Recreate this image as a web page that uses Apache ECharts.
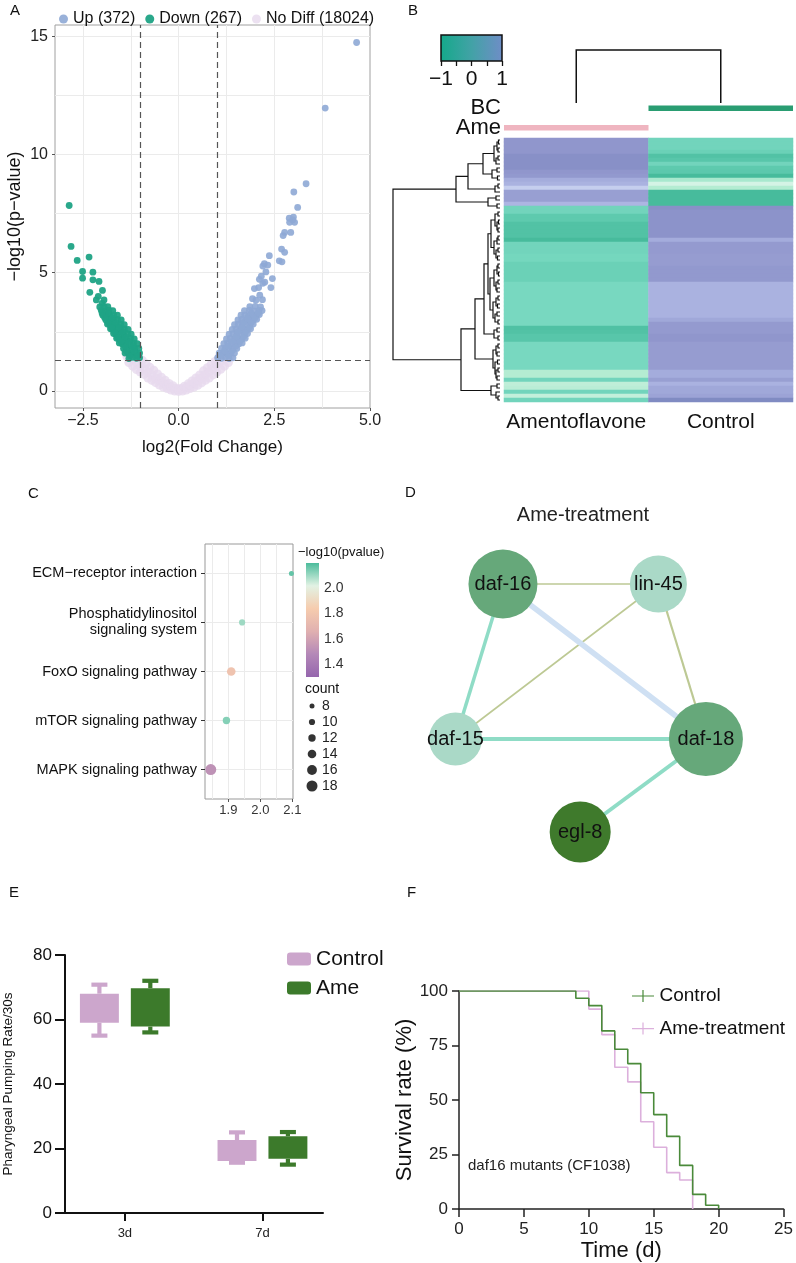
<!DOCTYPE html>
<html><head><meta charset="utf-8">
<script src="https://cdn.jsdelivr.net/npm/echarts@6/dist/echarts.min.js"></script>
<style>html,body{margin:0;padding:0;background:#fff}#c{width:796px;height:1263px}</style>
</head><body><div id="c"></div>
<script>
// ---------------- DATA ----------------
// Panel A: volcano
const volcanoLegend = ['Up (372)', 'Down (267)', 'No Diff (18024)'];
const volcanoUp = [
  [4.65,14.73],[3.83,11.96],[3.33,8.76],[3.01,8.41],[3.11,7.76],[3.0,7.35],[2.89,7.3],[2.98,7.23],[3.03,7.13],[2.9,7.13],
  [2.77,6.7],[2.93,6.7],[2.73,6.57],[2.69,6.0],[2.77,5.86],[2.37,5.72],[2.63,5.5],[2.7,5.46],[2.24,5.38],[2.33,5.32],
  [2.2,5.28],[2.28,5.03],[2.11,4.72],[2.45,4.75],[2.09,4.37],[1.98,4.33],[2.41,4.37],[1.93,3.9],[2.19,3.86],[2.02,3.84],
  [2.12,4.05],[2.25,4.6],[2.2,4.55],[2.16,4.85],
  [1.02,1.4],[1.12,1.38],[1.22,1.42],[1.32,1.37],[1.42,1.4],
  [1.06,1.6],[1.16,1.62],[1.26,1.58],[1.36,1.61],[1.46,1.6],
  [1.12,1.8],[1.22,1.82],[1.32,1.78],[1.42,1.81],[1.52,1.8],
  [1.18,2.0],[1.28,2.02],[1.38,1.98],[1.48,2.01],[1.58,2.0],[1.66,2.03],
  [1.25,2.2],[1.35,2.22],[1.45,2.18],[1.55,2.21],[1.65,2.2],[1.74,2.23],
  [1.32,2.4],[1.42,2.42],[1.52,2.38],[1.62,2.41],[1.72,2.4],[1.8,2.43],
  [1.4,2.6],[1.5,2.62],[1.6,2.58],[1.7,2.61],[1.8,2.6],[1.88,2.63],
  [1.46,2.8],[1.56,2.82],[1.66,2.78],[1.76,2.81],[1.86,2.8],[1.95,2.83],
  [1.55,3.0],[1.65,3.02],[1.75,2.98],[1.85,3.01],[1.95,3.0],[2.04,3.03],
  [1.63,3.2],[1.73,3.22],[1.83,3.18],[1.93,3.21],[2.03,3.2],[2.11,3.23],
  [1.72,3.4],[1.85,3.42],[1.98,3.38],[2.1,3.41],[2.18,3.4],
  [1.86,3.56],[2.0,3.58],[2.14,3.55],
  [1.1,1.5],[1.3,1.5],[1.2,1.7],[1.4,1.7],[1.3,1.9],[1.5,1.9],[1.4,2.1],[1.6,2.1],[1.5,2.3],[1.7,2.3],
  [1.55,2.5],[1.75,2.5],[1.65,2.7],[1.85,2.7],[1.7,2.9],[1.9,2.9],[1.8,3.1],[2.0,3.1],[1.9,3.3],[2.08,3.3]
];
const volcanoDown = [
  [-2.86,7.84],[-2.81,6.11],[-2.65,5.52],[-2.34,5.66],[-2.51,5.05],[-2.24,5.02],[-2.51,4.77],[-2.24,4.7],[-2.08,4.63],
  [-2.32,4.17],[-1.99,4.25],[-2.15,3.85],[-1.95,3.85],[-2.1,4.0],[-2.0,3.7],
  [-1.02,1.4],[-1.1,1.38],[-1.2,1.42],[-1.3,1.37],
  [-1.02,1.6],[-1.12,1.62],[-1.22,1.58],[-1.32,1.61],[-1.4,1.6],
  [-1.04,1.8],[-1.14,1.82],[-1.24,1.78],[-1.34,1.81],[-1.44,1.8],
  [-1.08,2.0],[-1.18,2.02],[-1.28,1.98],[-1.38,2.01],[-1.48,2.0],[-1.55,2.03],
  [-1.16,2.2],[-1.26,2.22],[-1.36,2.18],[-1.46,2.21],[-1.56,2.2],[-1.62,2.23],
  [-1.24,2.4],[-1.34,2.42],[-1.44,2.38],[-1.54,2.41],[-1.64,2.4],[-1.7,2.43],
  [-1.32,2.6],[-1.42,2.62],[-1.52,2.58],[-1.62,2.61],[-1.72,2.6],[-1.78,2.63],
  [-1.42,2.8],[-1.52,2.82],[-1.62,2.78],[-1.72,2.81],[-1.8,2.8],[-1.86,2.83],
  [-1.5,3.0],[-1.6,3.02],[-1.7,2.98],[-1.8,3.01],[-1.9,3.0],
  [-1.6,3.2],[-1.7,3.22],[-1.8,3.18],[-1.9,3.21],[-1.98,3.2],
  [-1.72,3.4],[-1.82,3.42],[-1.92,3.38],[-2.02,3.41],
  [-1.85,3.56],[-1.95,3.58],[-2.06,3.55],
  [-1.07,1.5],[-1.27,1.5],[-1.17,1.7],[-1.37,1.7],[-1.2,1.9],[-1.4,1.9],[-1.3,2.1],[-1.5,2.1],[-1.4,2.3],[-1.6,2.3],
  [-1.47,2.5],[-1.67,2.5],[-1.57,2.7],[-1.75,2.7],[-1.65,2.9],[-1.83,2.9],[-1.75,3.1],[-1.93,3.1],[-1.85,3.3],[-2.0,3.3]
];
const volcanoNoDiff = [
  [-1.35,1.45],[-1.3,1.2],[-1.25,1.5],[-1.2,1.05],[-1.2,1.35],[-1.1,0.9],[-1.1,1.2],[-1.05,1.45],[-1.0,0.8],[-1.0,1.05],
  [-0.95,1.3],[-0.9,0.7],[-0.9,0.95],[-0.85,1.15],[-0.8,0.55],[-0.8,0.8],[-0.75,1.0],[-0.7,0.45],[-0.7,0.7],[-0.65,0.88],
  [-0.6,0.35],[-0.6,0.55],[-0.55,0.72],[-0.5,0.25],[-0.5,0.45],[-0.45,0.58],[-0.4,0.17],[-0.4,0.35],[-0.35,0.45],[-0.3,0.1],
  [-0.3,0.25],[-0.25,0.32],[-0.2,0.04],[-0.2,0.16],[-0.15,0.22],[-0.1,0.0],[-0.1,0.09],[-0.05,0.12],[0,-0.02],[0,0.06],
  [0.05,0.1],[0.1,0.0],[0.1,0.09],[0.15,0.2],[0.2,0.04],[0.2,0.15],[0.25,0.3],[0.3,0.1],[0.3,0.24],[0.35,0.42],
  [0.4,0.16],[0.4,0.34],[0.45,0.55],[0.5,0.24],[0.5,0.44],[0.55,0.68],[0.6,0.34],[0.6,0.55],[0.65,0.85],[0.7,0.45],
  [0.7,0.7],[0.75,0.98],[0.8,0.55],[0.8,0.82],[0.85,1.12],[0.9,0.68],[0.9,0.95],[0.95,1.25],[1.0,0.8],[1.0,1.1],
  [1.05,1.42],[1.1,0.92],[1.1,1.25],[1.2,1.05],[1.2,1.4],[1.3,1.2],[1.35,1.45]
];
const volcanoXTicks = [-2.5, 0, 2.5, 5];
const volcanoYTicks = [0, 5, 10, 15];
const volcanoXGrid = [-2.5, -1.25, 0, 1.25, 2.5, 3.75];
const volcanoYGrid = [0, 2.5, 5, 7.5, 10, 12.5, 15];
const volcanoThresholdFC = [-1, 1];
const volcanoThresholdP = 1.3;

// Panel B: heatmap
const heatCols = ['Amentoflavone', 'Control'];
const heatAme = [0.75,0.75,0.75,0.75,0.85,0.85,0.85,0.85,0.75,0.72,0.5,0.45,0.22,0.65,0.65,0.65,0.42,-0.55,
  -0.55,-0.7,-0.7,-0.8,-0.8,-0.8,-0.8,-0.9,-0.55,-0.55,-0.55,-0.52,-0.52,-0.6,-0.6,-0.6,-0.6,-0.6,
  -0.5,-0.5,-0.5,-0.5,-0.5,-0.5,-0.5,-0.5,-0.5,-0.5,-0.5,-0.82,-0.8,-0.75,-0.75,
  -0.5,-0.5,-0.5,-0.5,-0.5,-0.5,-0.5,-0.25,-0.25,-0.55,-0.2,-0.22,-0.55,-0.18,-0.55];
const heatCtrl = [-0.55,-0.55,-0.55,-0.6,-0.8,-0.75,-0.55,-0.7,-0.72,-0.9,-0.3,-0.1,-0.25,-0.9,-0.9,-0.9,-0.9,0.85,
  0.8,0.8,0.8,0.8,0.8,0.8,0.8,0.5,0.7,0.7,0.7,0.68,0.68,0.68,0.72,0.72,0.72,0.72,
  0.45,0.45,0.45,0.45,0.45,0.45,0.45,0.45,0.45,0.55,0.7,0.7,0.7,0.75,0.75,
  0.68,0.68,0.68,0.68,0.68,0.68,0.68,0.5,0.5,0.65,0.45,0.55,0.55,0.6,0.95];
const heatScaleTicks = [-1, -0.5, 0, 0.5, 1];
const heatScaleLabels = [-1, 0, 1];
const annoTracks = ['BC', 'Ame'];
const annoCells = [[1, 0], [0, 1]]; // [column, track]
// row dendrogram: [height, left, right]; leaves are row indices
const rowTree = [107,
  [44,
    [32,
      [17,
        [6, [3, [1.5, 0, 1], [2, 2, 3]], [4, [2, 4, 5], 6]],
        [8, [3, 7, 8], [2.5, 9, 10]]
      ],
      [5, [2, 11, 12], 13]
    ],
    [12, [4, 14, 15], [3, 16, 17]]
  ],
  [39,
    [25,
      [16,
        [12,
          [9, [5, [2, 18, 19], [3, [1.5, 20, 21], [2, 22, 23]]], [6, [3, [2, 24, 25], 26], [4, [2, 27, 28], [2.5, 29, 30]]]],
          [10, [6, [3, [2, 31, 32], [1.5, 33, 34]], [4, [2, 35, 36], [3, 37, 38]]], [7, [4, [2, 39, 40], [2.5, 41, 42]], [5, [3, 43, 44], [2, 45, 46]]]]
        ],
        [6, [3, 47, 48], [2, 49, 50]]
      ],
      [7, [4, [2, 51, 52], [3, 53, 54]], [5, [2.5, 55, 56], [4, [2, 57, 58], [3, 59, 60]]]]
    ],
    [9, [3, 61, 62], [4, 63, [2, 64, 65]]]
  ]
];
const colTree = [1, 0, 1];

// Panel C: enrichment dot plot
const pathways = ['ECM\u2212receptor interaction', 'Phosphatidylinositol\nsignaling system', 'FoxO signaling pathway', 'mTOR signaling pathway', 'MAPK signaling pathway'];
const pathRatio = [2.097, 1.943, 1.909, 1.894, 1.845];
const pathLogP = [2.17, 2.1, 1.78, 2.13, 1.52];
const pathCount = [8, 10, 14, 12, 18];
const pathXTicks = [1.9, 2.0, 2.1];
const pathXGrid = [1.85, 1.9, 1.95, 2.0, 2.05];
const pLegendTicks = [1.4, 1.6, 1.8, 2.0];
const countLegend = [8, 10, 12, 14, 16, 18];

// Panel D: network
const netNodes = ['daf-16', 'lin-45', 'daf-15', 'daf-18', 'egl-8'];
const netPos = [[2.6, 2.6], [6.525, 2.6], [1.4, 6.475], [7.725, 6.475], [4.55, 8.8]];
const netEdges = [['daf-16','lin-45'], ['lin-45','daf-15'], ['lin-45','daf-18'], ['daf-16','daf-18'], ['daf-16','daf-15'], ['daf-15','daf-18'], ['daf-18','egl-8']];

// Panel E: pumping rate (min, q1, q3, max)
const boxCats = ['3d', '7d'];
const pumpControl = [[55.0, 59.0, 68.0, 70.8], [15.6, 16.1, 22.6, 25.0]];
const pumpAme = [[56.0, 57.8, 69.7, 72.0], [15.0, 16.8, 23.8, 25.1]];

// Panel F: survival
const kmControl = [[0,100],[9,96.7],[10,93.3],[11,81.7],[12,73.3],[13,66.7],[14,53.3],[15,43.3],[16,33.3],[17,20],[18,6.7],[19,1.7],[20,0]];
const kmAme = [[0,100],[10,91.7],[11,80],[12,65],[13,58.3],[14,40],[15,28.3],[16,16.7],[17,13.3],[18,0]];

// ---------------- STYLE ----------------
const FONT = 'Liberation Sans, Arial, Helvetica, sans-serif';
const C_UP = '#8ea8d5', C_DOWN = '#1fa385', C_NO = '#e7d9ee';
const heatColors = ['#3cb493', '#58c6aa', '#78d8c0', '#b4ecd2', '#eaf8f2', '#c0c8ee', '#a4acdc', '#9096cc', '#7c88c0'];
const pColors = ['#9566ad', '#b488b8', '#e0b0b0', '#f6ccae', '#e2f2e4', '#4cbc9c'];
const annoColors = ['#2a9d72', '#efb5c0'];
const nodeSize = {'daf-16': 69, 'lin-45': 57, 'daf-15': 53, 'daf-18': 74, 'egl-8': 61};
const nodeColor = {'daf-16': '#66a87a', 'lin-45': '#aad9c7', 'daf-15': '#aad9c7', 'daf-18': '#66a87a', 'egl-8': '#3f7a2c'};
const edgeStyles = [
  {color:'#bdc994', width:1.6}, {color:'#bdc994', width:1.6}, {color:'#bdc994', width:2.2},
  {color:'#cfe0f3', width:5.5}, {color:'#8fdcc6', width:3.5}, {color:'#8fdcc6', width:4}, {color:'#8fdcc6', width:4}
];
const C_CTRL_E = '#cca6cc', C_AME_E = '#3c7a2b';
const C_CTRL_F = '#4a8a3a', C_AME_F = '#dcb0dc';

function minus(s) { return String(s).replace('-', '\u2212'); }

// dendrogram segments from trees
function buildSegs(tree, leafOffset) {
  const segs = [];
  (function walk(node) {
    if (typeof node === 'number') return {h: 0, p: node + leafOffset};
    const a = walk(node[1]), b = walk(node[2]);
    segs.push([node[0], a.p, b.p, a.h, b.h]);
    return {h: node[0], p: (a.p + b.p) / 2};
  })(tree);
  return segs;
}
const rowSegs = buildSegs(rowTree, 0.5);
const colSegs = buildSegs(colTree, 0);

function dendroRender(horizontal, lw) {
  return function (params, api) {
    const h = api.value(0), pa = api.value(1), pb = api.value(2), ha = api.value(3), hb = api.value(4);
    const pt = horizontal ? (hh, pp) => api.coord([hh, pp]) : (hh, pp) => api.coord([pp, hh]);
    return {type: 'polyline', shape: {points: [pt(ha, pa), pt(h, pa), pt(h, pb), pt(hb, pb)]},
      style: {stroke: '#111', lineWidth: lw, fill: 'none'}};
  };
}

function boxRender(offset, color) {
  return function (params, api) {
    const x = api.value(0);
    const c = api.coord([x + offset, 0])[0];
    const w = api.size([0.283, 0])[0];
    const yMin = api.coord([x, api.value(1)])[1];
    const yQ1 = api.coord([x, api.value(2)])[1];
    const yQ3 = api.coord([x, api.value(3)])[1];
    const yMax = api.coord([x, api.value(4)])[1];
    const capW = 16, th = 4.2;
    const st = {fill: color};
    return {type: 'group', children: [
      {type: 'rect', shape: {x: c - th / 2, y: yMax, width: th, height: yQ3 - yMax}, style: st},
      {type: 'rect', shape: {x: c - th / 2, y: yQ1, width: th, height: yMin - yQ1}, style: st},
      {type: 'rect', shape: {x: c - capW / 2, y: yMax - th / 2, width: capW, height: th}, style: st},
      {type: 'rect', shape: {x: c - capW / 2, y: yMin - th / 2, width: capW, height: th}, style: st},
      {type: 'rect', shape: {x: c - w / 2, y: yQ3, width: w, height: yQ1 - yQ3}, style: st}
    ]};
  };
}

const heatData = [];
heatAme.forEach((v, r) => heatData.push([0, r, v]));
heatCtrl.forEach((v, r) => heatData.push([1, r, v]));
const rowCats = heatAme.map((v, i) => String(i));

const hidden = {show: false};
const noLine = {show: false, onZero: false};
function hiddenAxis(extra) {
  return Object.assign({axisLine: noLine, axisTick: hidden, axisLabel: hidden, splitLine: hidden}, extra);
}
const txt = (text, x, y, size, align, extra) => ({type: 'text', silent: true,
  style: Object.assign({text, x, y, fill: '#111', fontSize: size, fontFamily: FONT,
    textAlign: align || 'left', align: align || 'left', textVerticalAlign: 'middle', verticalAlign: 'middle'}, extra || {})});

const gridLineStyle = {color: '#ebebeb', width: 1, type: 'solid'};

const option = {
  animation: false,
  textStyle: {fontFamily: FONT},
  grid: [
    {left: 55, top: 25, width: 315, height: 383, show: true, borderColor: '#a0a0a0', borderWidth: 1, backgroundColor: '#fff'}, //0 A
    {left: 441, top: 35, width: 61, height: 26}, //1 B colorbar
    {left: 504, top: 50, width: 289, height: 53}, //2 B col dendro
    {left: 504, top: 98.5, width: 289, height: 39}, //3 B annotation
    {left: 393, top: 138, width: 107, height: 264}, //4 B row dendro
    {left: 504, top: 138, width: 289, height: 264}, //5 B heatmap
    {left: 205, top: 544, width: 88, height: 255, show: true, borderColor: '#999', borderWidth: 1, backgroundColor: '#fff'}, //6 C
    {left: 306, top: 563, width: 13, height: 114}, //7 C colorbar
    {left: 305, top: 698, width: 14, height: 96}, //8 C size legend
    {left: 400, top: 480, width: 400, height: 400}, //9 D
    {left: 64, top: 955, width: 259, height: 258}, //10 E
    {left: 459, top: 991, width: 327, height: 218} //11 F
  ],
  xAxis: [
    {gridIndex: 0, type: 'value', min: -3.23, max: 5.0, axisLine: noLine, splitLine: hidden,
      axisTick: {customValues: volcanoXTicks, length: 3, lineStyle: {color: '#555'}},
      axisLabel: {customValues: volcanoXTicks, formatter: v => minus(v.toFixed(1)), fontSize: 16, color: '#222', margin: 5},
      name: 'log2(Fold Change)', nameLocation: 'middle', nameGap: 31, nameTextStyle: {fontSize: 17, color: '#111'}},
    {gridIndex: 1, type: 'value', min: -1, max: 1, axisLine: noLine, splitLine: hidden,
      axisTick: {customValues: heatScaleTicks, length: 5, lineStyle: {color: '#111', width: 1.3}},
      axisLabel: {customValues: heatScaleLabels, formatter: v => minus(v), fontSize: 21, color: '#111', margin: 8}},
    hiddenAxis({gridIndex: 2, type: 'category', data: heatCols}),
    hiddenAxis({gridIndex: 3, type: 'category', data: heatCols}),
    hiddenAxis({gridIndex: 4, type: 'value', min: 0, max: 107, inverse: true}),
    {gridIndex: 5, type: 'category', data: heatCols, axisLine: noLine, axisTick: hidden, splitLine: hidden,
      axisLabel: {interval: 0, fontSize: 21, color: '#111', margin: 10}},
    {gridIndex: 6, type: 'value', min: 1.827, max: 2.102, axisLine: noLine, splitLine: hidden,
      axisTick: {customValues: pathXTicks, length: 3, lineStyle: {color: '#555'}},
      axisLabel: {customValues: pathXTicks, formatter: v => v.toFixed(1), fontSize: 13, color: '#333', margin: 5}},
    hiddenAxis({gridIndex: 7, type: 'value', min: 0, max: 1}),
    hiddenAxis({gridIndex: 8, type: 'value', min: 0, max: 1}),
    hiddenAxis({gridIndex: 9, type: 'value', min: 0, max: 10}),
    {gridIndex: 10, type: 'value', min: 0.565, max: 2.44, splitLine: hidden,
      axisLine: {onZero: false, lineStyle: {color: '#111', width: 2}},
      axisTick: {customValues: [1, 2], length: 8, lineStyle: {color: '#111', width: 2}},
      axisLabel: {customValues: [1, 2], formatter: v => boxCats[Math.round(v) - 1], fontSize: 13, color: '#222', margin: 14}},
    {gridIndex: 11, type: 'value', min: 0, max: 25, interval: 5, splitLine: hidden,
      axisLine: {onZero: false, lineStyle: {color: '#222', width: 1.5}},
      axisTick: {length: 8, lineStyle: {color: '#222', width: 1.5}},
      axisLabel: {fontSize: 17, color: '#222', margin: 12},
      name: 'Time (d)', nameLocation: 'middle', nameGap: 31, nameTextStyle: {fontSize: 22, color: '#111'}}
  ],
  yAxis: [
    {gridIndex: 0, type: 'value', min: -0.72, max: 15.47, axisLine: noLine, splitLine: hidden,
      axisTick: {customValues: volcanoYTicks, length: 3, lineStyle: {color: '#555'}},
      axisLabel: {customValues: volcanoYTicks, fontSize: 16, color: '#222', margin: 7},
      name: '\u2212log10(p\u2212value)', nameLocation: 'middle', nameGap: 31, nameTextStyle: {fontSize: 18, color: '#111'}},
    hiddenAxis({gridIndex: 1, type: 'value', min: 0, max: 1}),
    hiddenAxis({gridIndex: 2, type: 'value', min: 0, max: 1}),
    {gridIndex: 3, type: 'category', data: annoTracks, inverse: true, axisLine: noLine, axisTick: hidden, splitLine: hidden,
      axisLabel: {interval: 0, fontSize: 22, color: '#111', margin: 3}},
    hiddenAxis({gridIndex: 4, type: 'value', min: 0, max: rowCats.length, inverse: true}),
    hiddenAxis({gridIndex: 5, type: 'category', data: rowCats, inverse: true}),
    {gridIndex: 6, type: 'value', min: 0.4, max: 5.6, inverse: true, axisLine: noLine, splitLine: hidden,
      axisTick: {customValues: [1, 2, 3, 4, 5], length: 4, lineStyle: {color: '#333'}},
      axisLabel: {customValues: [1, 2, 3, 4, 5], formatter: v => pathways[Math.round(v) - 1], fontSize: 14.5, color: '#111', margin: 8, lineHeight: 16}},
    {gridIndex: 7, type: 'value', min: 1.297, max: 2.198, position: 'right', axisLine: noLine, splitLine: hidden,
      axisTick: {customValues: pLegendTicks, inside: true, length: 3, lineStyle: {color: '#fff'}},
      axisLabel: {customValues: pLegendTicks, formatter: v => v.toFixed(1), fontSize: 14, color: '#333', margin: 5}},
    {gridIndex: 8, type: 'category', data: countLegend.map(String), inverse: true, position: 'right',
      axisLine: noLine, axisTick: hidden, splitLine: hidden, axisLabel: {interval: 0, fontSize: 14, color: '#222', margin: 3}},
    hiddenAxis({gridIndex: 9, type: 'value', min: 0, max: 10, inverse: true}),
    {gridIndex: 10, type: 'value', min: 0, max: 80, interval: 20, splitLine: hidden,
      axisLine: {show: true, onZero: false, lineStyle: {color: '#111', width: 2}},
      axisTick: {show: true, length: 10, lineStyle: {color: '#111', width: 2}},
      axisLabel: {fontSize: 17, color: '#111', margin: 13},
      name: 'Pharyngeal Pumping Rate/30s', nameLocation: 'middle', nameGap: 50, nameTextStyle: {fontSize: 13.5, color: '#111'}},
    {gridIndex: 11, type: 'value', min: 0, max: 100, interval: 25, splitLine: hidden,
      axisLine: {show: true, onZero: false, lineStyle: {color: '#222', width: 1.5}},
      axisTick: {show: true, length: 7, lineStyle: {color: '#222', width: 1.5}},
      axisLabel: {fontSize: 17, color: '#222', margin: 11},
      name: 'Survival rate (%)', nameLocation: 'middle', nameGap: 37, nameTextStyle: {fontSize: 22, color: '#111'}}
  ],
  visualMap: [
    {type: 'continuous', show: false, seriesIndex: 9, dimension: 2, min: -1, max: 1, inRange: {color: heatColors}},
    {type: 'continuous', show: false, seriesIndex: 11, dimension: 2, min: 1.297, max: 2.198, inRange: {color: pColors}}
  ],
  legend: [
    {data: volcanoLegend, left: 54, top: 5, itemWidth: 9, itemHeight: 9, itemGap: 10, icon: 'circle', selectedMode: false,
      textStyle: {fontSize: 16, color: '#111', lineHeight: 18}},
    {data: ['Control', 'Ame'], left: 282, top: 943, orient: 'vertical', itemWidth: 24, itemHeight: 13, itemGap: 7, icon: 'roundRect', selectedMode: false,
      textStyle: {fontSize: 21, color: '#111', lineHeight: 22}},
    {data: ['Control ', 'Ame-treatment'], left: 627, top: 981, orient: 'vertical', itemWidth: 23, itemHeight: 12, itemGap: 12.6, selectedMode: false,
      icon: 'path://M0,5.4H22V6.6H0Z M10.4,0H11.6V12H10.4Z', textStyle: {fontSize: 19, color: '#111', lineHeight: 20}}
  ],
  graphic: [
    txt('A', 10, 11, 15), txt('B', 408, 11, 15), txt('C', 28, 494, 15), txt('D', 405, 493, 15), txt('E', 9, 893, 15), txt('F', 407, 893, 15),
    txt('\u2212log10(pvalue)', 298, 552, 13),
    txt('count', 305, 689, 14),
    txt('Ame-treatment', 583, 515, 20, 'center', {fill: '#222'}),
    txt('daf16 mutants (CF1038)', 468, 1166, 15, 'left', {fill: '#222'})
  ],
  series: [
    // 0 A grid lines
    {type: 'scatter', xAxisIndex: 0, yAxisIndex: 0, data: [[0, 0]], symbolSize: 0, silent: true, z: 1, zlevel: 0,
      markLine: {silent: true, z: 0, symbol: ['none', 'none'], label: {show: false}, lineStyle: gridLineStyle,
        data: volcanoXGrid.map(v => ({xAxis: v})).concat(volcanoYGrid.map(v => ({yAxis: v})))}},
    // 1-3 A points
    {type: 'scatter', name: volcanoLegend[2], xAxisIndex: 0, yAxisIndex: 0, data: volcanoNoDiff, symbolSize: 9, itemStyle: {color: C_NO}, z: 2},
    {type: 'scatter', name: volcanoLegend[1], xAxisIndex: 0, yAxisIndex: 0, data: volcanoDown, symbolSize: 6.8, itemStyle: {color: C_DOWN, opacity: 0.95}, z: 3},
    {type: 'scatter', name: volcanoLegend[0], xAxisIndex: 0, yAxisIndex: 0, data: volcanoUp, symbolSize: 6.8, itemStyle: {color: C_UP, opacity: 0.9}, z: 3},
    // 4 A thresholds
    {type: 'scatter', xAxisIndex: 0, yAxisIndex: 0, data: [[0, 0]], symbolSize: 0, silent: true, z: 6,
      markLine: {silent: true, z: 10, symbol: ['none', 'none'], label: {show: false}, lineStyle: {color: '#555', width: 1.2, type: [6, 4]},
        data: volcanoThresholdFC.map(v => ({xAxis: v})).concat([{yAxis: volcanoThresholdP}])}},
    // 5 B colorbar
    {type: 'custom', xAxisIndex: 1, yAxisIndex: 1, data: [[0, 0.5]], silent: true,
      renderItem: (params, api) => {
        const p0 = api.coord([-1, 1]), p1 = api.coord([1, 0]);
        return {type: 'rect', shape: {x: p0[0], y: p0[1], width: p1[0] - p0[0], height: p1[1] - p0[1]},
          style: {fill: new echarts.graphic.LinearGradient(0, 0, 1, 0, [{offset: 0, color: '#14a98a'}, {offset: 0.5, color: '#42a2a6'}, {offset: 1, color: '#6f8dc7'}]), stroke: '#111', lineWidth: 1.5}};
      }},
    // 6 B column dendrogram
    {type: 'custom', xAxisIndex: 2, yAxisIndex: 2, data: colSegs, silent: true, renderItem: dendroRender(false, 1.5)},
    // 7 B annotation tracks
    {type: 'custom', xAxisIndex: 3, yAxisIndex: 3, data: annoCells, silent: true,
      renderItem: (params, api) => {
        const col = api.value(0), trk = api.value(1);
        const c = api.coord([col, trk]);
        const w = api.size([1, 0])[0];
        return {type: 'rect', shape: {x: c[0] - w / 2, y: c[1] - 2.75, width: w, height: 5.5}, style: {fill: annoColors[trk]}};
      }},
    // 8 B row dendrogram
    {type: 'custom', xAxisIndex: 4, yAxisIndex: 4, data: rowSegs, silent: true, renderItem: dendroRender(true, 1.2)},
    // 9 B heatmap
    {type: 'heatmap', xAxisIndex: 5, yAxisIndex: 5, data: heatData, silent: true, itemStyle: {borderWidth: 0}},
    // 10 C grid lines
    {type: 'scatter', xAxisIndex: 6, yAxisIndex: 6, data: [[1.9, 1]], symbolSize: 0, silent: true, z: 1,
      markLine: {silent: true, z: 0, symbol: ['none', 'none'], label: {show: false}, lineStyle: gridLineStyle,
        data: pathXGrid.map(v => ({xAxis: v})).concat([1, 2, 3, 4, 5].map(v => ({yAxis: v})))}},
    // 11 C points
    {type: 'scatter', xAxisIndex: 6, yAxisIndex: 6, z: 3, clip: false,
      data: pathways.map((p, i) => [pathRatio[i], i + 1, pathLogP[i], pathCount[i]]),
      symbolSize: v => 5 + (v[3] - 8) * 0.6, itemStyle: {opacity: 1}},
    // 12 C colorbar
    {type: 'custom', xAxisIndex: 7, yAxisIndex: 7, data: [[0.5, 1.7]], silent: true,
      renderItem: (params, api) => {
        const p0 = api.coord([0, 2.198]), p1 = api.coord([1, 1.297]);
        const stops = pColors.slice().reverse().map((c, i, a) => ({offset: i / (a.length - 1), color: c}));
        return {type: 'rect', shape: {x: p0[0], y: p0[1], width: p1[0] - p0[0], height: p1[1] - p0[1]},
          style: {fill: new echarts.graphic.LinearGradient(0, 0, 0, 1, stops)}};
      }},
    // 13 C size legend
    {type: 'scatter', xAxisIndex: 8, yAxisIndex: 8, silent: true,
      data: countLegend.map((c, i) => [0.5, i, c]), symbolSize: v => 5 + (v[2] - 8) * 0.6, itemStyle: {color: '#000'}},
    // 14 D network
    {type: 'graph', coordinateSystem: 'cartesian2d', xAxisIndex: 9, yAxisIndex: 9, silent: true,
      data: netNodes.map((n, i) => ({name: n, value: netPos[i], symbolSize: nodeSize[n], itemStyle: {color: nodeColor[n]}})),
      links: netEdges.map((e, i) => ({source: e[0], target: e[1], lineStyle: Object.assign({opacity: 1, curveness: 0}, edgeStyles[i])})),
      label: {show: true, position: 'inside', fontSize: 20, color: '#111', fontFamily: FONT},
      lineStyle: {opacity: 1}},
    // 15-16 E boxes
    {type: 'custom', name: 'Control', xAxisIndex: 10, yAxisIndex: 10, itemStyle: {color: C_CTRL_E}, silent: true,
      data: pumpControl.map((b, i) => [i + 1].concat(b)), renderItem: boxRender(-0.185, C_CTRL_E)},
    {type: 'custom', name: 'Ame', xAxisIndex: 10, yAxisIndex: 10, itemStyle: {color: C_AME_E}, silent: true,
      data: pumpAme.map((b, i) => [i + 1].concat(b)), renderItem: boxRender(0.185, C_AME_E)},
    // 17-18 F survival
    {type: 'line', name: 'Control ', xAxisIndex: 11, yAxisIndex: 11, data: kmControl, step: 'end', symbol: 'none',
      color: C_CTRL_F, lineStyle: {color: C_CTRL_F, width: 1.6}, itemStyle: {color: C_CTRL_F}, z: 3},
    {type: 'line', name: 'Ame-treatment', xAxisIndex: 11, yAxisIndex: 11, data: kmAme, step: 'end', symbol: 'none',
      color: C_AME_F, lineStyle: {color: C_AME_F, width: 1.6}, itemStyle: {color: C_AME_F}, z: 2}
  ]
};

const chart = echarts.init(document.getElementById('c'), null, {renderer: 'canvas'});
chart.setOption(option);
</script></body></html>
